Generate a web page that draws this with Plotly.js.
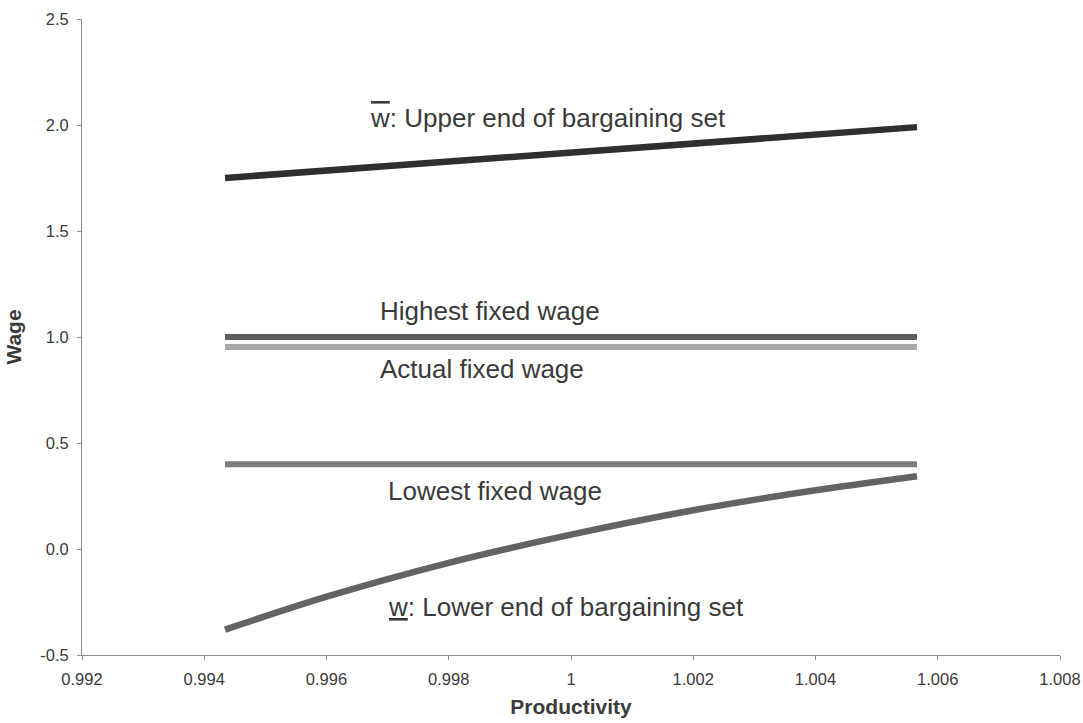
<!DOCTYPE html>
<html>
<head>
<meta charset="utf-8">
<script src="https://cdn.plot.ly/plotly-3.0.1.min.js"></script>
<style>html,body{margin:0;padding:0;background:#fff;}#chart{width:1083px;height:723px;}</style>
</head>
<body>
<div id="chart"></div>
<script>
// Data
const productivity = [0.99434, 0.996, 0.998, 1.000, 1.002, 1.004, 1.00566];
const upperEnd     = [1.75, 1.785, 1.827, 1.870, 1.912, 1.955, 1.99];
const highestFixed = [1.0, 1.0, 1.0, 1.0, 1.0, 1.0, 1.0];
const actualFixed  = [0.953, 0.953, 0.953, 0.953, 0.953, 0.953, 0.953];
const lowestFixed  = [0.40, 0.40, 0.40, 0.40, 0.40, 0.40, 0.40];
const lowerEnd     = [-0.38, -0.225, -0.065, 0.068, 0.183, 0.277, 0.343];

const xTickVals = [0.992, 0.994, 0.996, 0.998, 1.000, 1.002, 1.004, 1.006, 1.008];
const xTickText = ["0.992", "0.994", "0.996", "0.998", "1", "1.002", "1.004", "1.006", "1.008"];
const yTickVals = [-0.5, 0.0, 0.5, 1.0, 1.5, 2.0, 2.5];
const yTickText = ["-0.5", "0.0", "0.5", "1.0", "1.5", "2.0", "2.5"];

const labels = [
  {text: '<span style="text-decoration:overline">w</span>: Upper end of bargaining set', x: 0.99668, y: 2.033},
  {text: 'Highest fixed wage', x: 0.99685, y: 1.123},
  {text: 'Actual fixed wage', x: 0.99685, y: 0.849},
  {text: 'Lowest fixed wage', x: 0.99698, y: 0.274},
  {text: '<span style="text-decoration:underline">w</span>: Lower end of bargaining set', x: 0.99697, y: -0.274}
];

function line(y, color, width, shape) {
  return {x: productivity, y: y, type: 'scatter', mode: 'lines',
          line: {color: color, width: width, shape: shape || 'linear', smoothing: 0.7}, hoverinfo: 'skip'};
}

const data = [
  line(actualFixed, '#a9a9a9', 6),
  line(highestFixed, '#5e5e5e', 6),
  line(lowestFixed, '#7c7c7c', 6),
  line(lowerEnd, '#636363', 6.5, 'spline'),
  line(upperEnd, '#2f2f2f', 6.5)
];

const FONT = '"Liberation Sans", Arial, sans-serif';

const layout = {
  width: 1083, height: 723,
  margin: {l: 82, r: 23, t: 19, b: 68},
  paper_bgcolor: '#fff', plot_bgcolor: '#fff',
  showlegend: false,
  font: {family: FONT, color: '#3a3a3a'},
  xaxis: {
    range: [0.992, 1.008], tickvals: xTickVals, ticktext: xTickText,
    showgrid: false, zeroline: false, showline: true, linecolor: '#8c8c8c', linewidth: 1,
    ticks: 'outside', ticklen: 4, tickcolor: '#8c8c8c', ticklabelstandoff: 5,
    tickfont: {size: 16.5, color: '#3a3a3a', family: FONT},
    title: {text: '<b>Productivity</b>', font: {size: 21, color: '#3a3a3a', family: FONT}, standoff: 12}
  },
  yaxis: {
    range: [-0.5, 2.5], tickvals: yTickVals, ticktext: yTickText,
    showgrid: false, zeroline: false, showline: true, linecolor: '#8c8c8c', linewidth: 1,
    ticks: 'outside', ticklen: 4, tickcolor: '#8c8c8c', ticklabelstandoff: 5,
    tickfont: {size: 16.5, color: '#3a3a3a', family: FONT},
    title: {text: '<b>Wage</b>', font: {size: 21, color: '#3a3a3a', family: FONT}, standoff: 12}
  },
  annotations: labels.map(l => ({
    x: l.x, y: l.y, xref: 'x', yref: 'y', text: l.text, showarrow: false,
    xanchor: 'left', yanchor: 'middle', font: {size: 26, color: '#3a3a3a', family: FONT}
  }))
};

Plotly.newPlot('chart', data, layout, {displayModeBar: false, staticPlot: true});
</script>
</body>
</html>
